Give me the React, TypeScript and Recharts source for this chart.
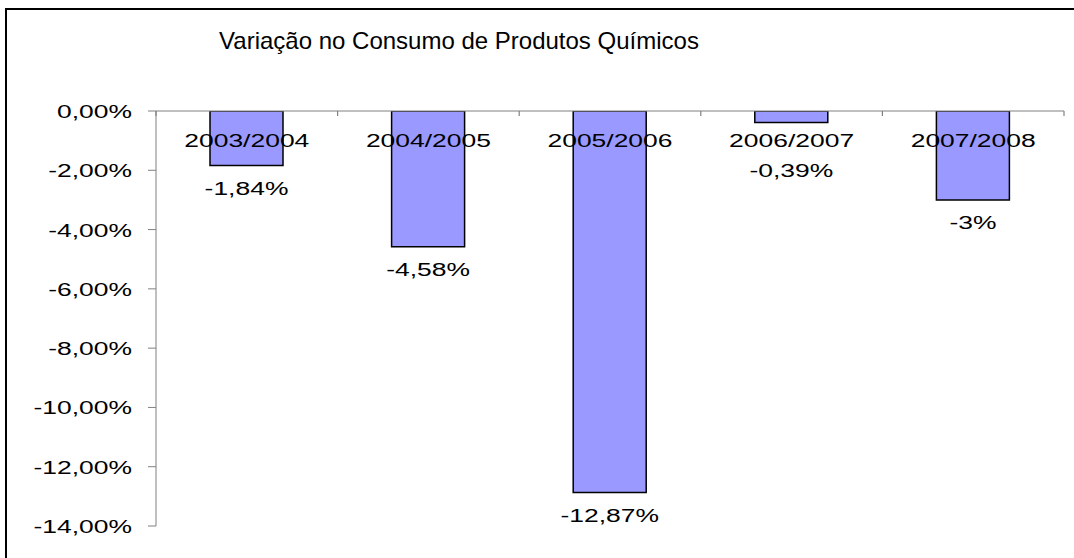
import React from 'react';
import { BarChart, Bar, XAxis, YAxis, LabelList } from 'recharts';

const categories = ['2003/2004', '2004/2005', '2005/2006', '2006/2007', '2007/2008'];
const variation = [-1.84, -4.58, -12.87, -0.39, -3];
const yTicks = [0, -2, -4, -6, -8, -10, -12, -14];
const title = 'Variação no Consumo de Produtos Químicos';

const data = categories.map((c, i) => ({ periodo: c, valor: variation[i] }));

const FONT = '"Liberation Sans", Arial, Helvetica, sans-serif';
const FS = 18.5;
const SX = 1.43;
const AXIS = '#808080';
const CHART_W = 1074;
const CHART_H = 558;
const PLOT_TOP = 111;
const PLOT_LEFT = 156;
const RIGHT_MARGIN = 10;
const BAND = (CHART_W - RIGHT_MARGIN - PLOT_LEFT) / categories.length;

const fmtAxis = (v: number) => (v === 0 ? '0,00%' : v.toFixed(2).replace('.', ',') + '%');
const fmtLabel = (v: number) => String(Number(v.toFixed(2))).replace('.', ',') + '%';

const YTick = (props: any) => {
  const { x, y, payload } = props;
  return (
    <text
      transform={`translate(${x},${y + 7}) scale(${SX},1)`}
      textAnchor="end"
      fontSize={FS}
      fontFamily={FONT}
      fill="#000"
    >
      {fmtAxis(payload.value)}
    </text>
  );
};

const CatTick = (props: any) => {
  const { x, payload, index } = props;
  const left = x - BAND / 2;
  const right = x + BAND / 2;
  const isLast = index === categories.length - 1;
  return (
    <g>
      <line x1={left} x2={left} y1={PLOT_TOP} y2={PLOT_TOP + 5} stroke={AXIS} strokeWidth={1.2} />
      {isLast && (
        <line x1={right} x2={right} y1={PLOT_TOP} y2={PLOT_TOP + 5} stroke={AXIS} strokeWidth={1.2} />
      )}
      <text
        transform={`translate(${x},${PLOT_TOP + 36}) scale(${SX},1)`}
        textAnchor="middle"
        fontSize={FS}
        fontFamily={FONT}
        fill="#000"
      >
        {payload.value}
      </text>
    </g>
  );
};

const ValueLabel = (props: any) => {
  const vb = props.viewBox ?? props;
  const x = vb.x ?? props.x;
  const y = vb.y ?? props.y;
  const w = vb.width ?? props.width;
  const h = vb.height ?? props.height;
  const end = Math.max(y, y + h);
  const zero = Math.min(y, y + h);
  const base = Math.max(end + 29, zero + 66);
  return (
    <text
      transform={`translate(${x + w / 2},${base}) scale(${SX},1)`}
      textAnchor="middle"
      fontSize={FS}
      fontFamily={FONT}
      fill="#000"
    >
      {fmtLabel(Number(props.value))}
    </text>
  );
};

export default function App() {
  return (
    <div
      style={{
        position: 'absolute',
        left: 0,
        top: 0,
        width: CHART_W,
        height: CHART_H,
        overflow: 'hidden',
        background: '#fff',
      }}
    >
      <div
        style={{
          position: 'absolute',
          left: 5,
          top: 8,
          width: 1300,
          height: 800,
          border: '2px solid #000',
          boxSizing: 'border-box',
        }}
      />
      <div
        style={{
          position: 'absolute',
          left: 0,
          top: 29,
          width: 918,
          textAlign: 'center',
          fontFamily: FONT,
          fontSize: 24,
          lineHeight: '24px',
          color: '#000',
          whiteSpace: 'nowrap',
        }}
      >
        {title}
      </div>
      <div style={{ position: 'absolute', left: 0, top: 0 }}>
        <BarChart
          width={CHART_W}
          height={CHART_H}
          data={data}
          margin={{ top: PLOT_TOP - 1, right: RIGHT_MARGIN, bottom: 32, left: 0 }}
        >
          <YAxis
            type="number"
            domain={[-14, 0]}
            ticks={yTicks}
            interval={0}
            width={PLOT_LEFT}
            stroke={AXIS}
            tickSize={8}
            tickMargin={16}
            tick={<YTick />}
            allowDataOverflow
          />
          <Bar
            xAxisId="cat"
            dataKey="valor"
            fill="#9999FF"
            stroke="#000"
            strokeWidth={1.5}
            barSize={73}
            isAnimationActive={false}
          >
            <LabelList dataKey="valor" content={<ValueLabel />} />
          </Bar>
          <XAxis
            xAxisId="cat"
            dataKey="periodo"
            orientation="top"
            height={1}
            tickLine={false}
            tickSize={0}
            tickMargin={0}
            axisLine={{ stroke: AXIS }}
            tick={<CatTick />}
            interval={0}
          />
        </BarChart>
      </div>
    </div>
  );
}
